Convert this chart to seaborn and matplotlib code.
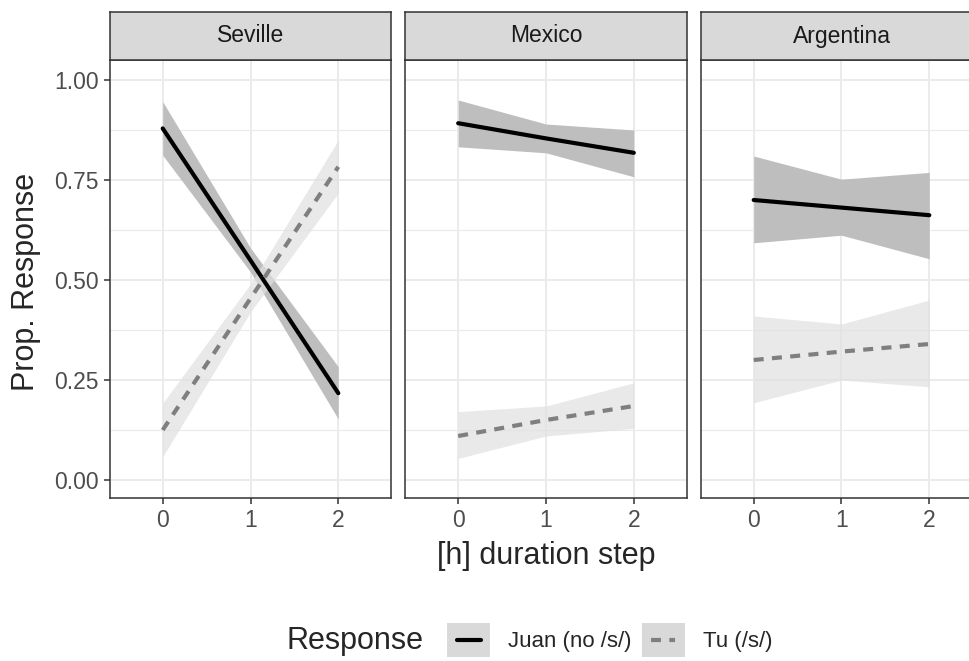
import numpy as np
import pandas as pd
import matplotlib
matplotlib.use("Agg")
import matplotlib.pyplot as plt
from matplotlib.patches import Rectangle
from matplotlib.lines import Line2D
from matplotlib.legend_handler import HandlerBase
import seaborn as sns

# data
steps = [0, 1, 2]
places = ["Seville", "Mexico", "Argentina"]
juan_fit = {"Seville": [0.879, 0.549, 0.217], "Mexico": [0.892, 0.854, 0.818], "Argentina": [0.700, 0.681, 0.662]}
juan_lo = {"Seville": [0.812, 0.520, 0.152], "Mexico": [0.833, 0.818, 0.758], "Argentina": [0.593, 0.612, 0.553]}
juan_hi = {"Seville": [0.946, 0.580, 0.283], "Mexico": [0.950, 0.890, 0.875], "Argentina": [0.810, 0.752, 0.769]}
tu_fit = {"Seville": [0.125, 0.454, 0.783], "Mexico": [0.110, 0.150, 0.185], "Argentina": [0.300, 0.321, 0.340]}
tu_lo = {"Seville": [0.058, 0.420, 0.717], "Mexico": [0.054, 0.110, 0.129], "Argentina": [0.193, 0.250, 0.233]}
tu_hi = {"Seville": [0.192, 0.490, 0.850], "Mexico": [0.171, 0.185, 0.243], "Argentina": [0.410, 0.390, 0.450]}
resp_labels = ["Juan (no /s/)", "Tu (/s/)"]

sns.set_style("white")
plt.rcParams["font.family"] = ["Liberation Sans", "DejaVu Sans"]

W, H = 970, 661
fig, axes = plt.subplots(1, 3, figsize=(W / 100, H / 100), dpi=100, sharey=True)
# third panel runs past the right edge, as in the (cropped) reference
fig.subplots_adjust(left=110 / W, right=982 / W, bottom=1 - 498 / H, top=1 - 60 / H, wspace=0.0516)

dash = [2.4, 2.0]
for ax, p in zip(axes, places):
    ax.fill_between(steps, juan_lo[p], juan_hi[p], color="#BEBEBE", lw=0, zorder=2)
    ax.fill_between(steps, tu_lo[p], tu_hi[p], color="#E0E0E0", alpha=0.7, lw=0, zorder=2)
    sns.lineplot(x=steps, y=juan_fit[p], ax=ax, color="black", lw=3, zorder=3)
    sns.lineplot(x=steps, y=tu_fit[p], ax=ax, color="#7F7F7F", lw=3, zorder=3)
    ax.lines[-1].set_dashes(dash)
    ax.set_xlim(-0.6, 2.6)
    ax.set_ylim(-0.045, 1.05)
    ax.set_xticks(steps)
    ax.set_yticks([0, 0.25, 0.5, 0.75, 1.0])
    ax.set_yticks([0.125, 0.375, 0.625, 0.875], minor=True)
    ax.set_yticklabels(["0.00", "0.25", "0.50", "0.75", "1.00"])
    ax.grid(True, which="major", color="#EBEBEB", lw=1.4, zorder=0)
    ax.grid(True, which="minor", axis="y", color="#EBEBEB", lw=0.8, zorder=0)
    ax.set_axisbelow(True)
    for s in ax.spines.values():
        s.set_color("#333333")
        s.set_linewidth(1.1)
    ax.tick_params(axis="both", which="major", length=4, width=1.1, color="#333333", pad=4,
                   labelsize=16.5, labelcolor="#4D4D4D", left=True, bottom=True)
    ax.tick_params(axis="y", which="minor", length=0)
    ax.set_xlabel("")
    ax.set_ylabel("")
    pos = ax.get_position()
    sax = fig.add_axes([pos.x0, pos.y1, pos.width, 48 / H])
    sax.set_facecolor("#D9D9D9")
    sax.set_xticks([])
    sax.set_yticks([])
    for s in sax.spines.values():
        s.set_color("#333333")
        s.set_linewidth(1.1)
    sax.text(0.5, 0.5, p, ha="center", va="center", fontsize=16.5, color="#1A1A1A")

for ax in axes[1:]:
    ax.tick_params(axis="y", left=False, labelleft=False)

fig.text(546 / W, 1 - 556 / H, "[h] duration step", ha="center", va="center", fontsize=22)
fig.text(26 / W, 1 - 282 / H, "Prop. Response", ha="center", va="center", rotation=90, fontsize=22)


class KeyHandler(HandlerBase):
    def create_artists(self, legend, orig, xd, yd, width, height, fontsize, trans):
        bg = Rectangle((-xd, -yd), width, height, facecolor="#D9D9D9", edgecolor="none", transform=trans)
        ln = Line2D([-xd + width * 0.22, -xd + width * 0.78], [-yd + height / 2] * 2,
                    color=orig.get_color(), lw=3, transform=trans)
        if orig.get_linestyle() != "-":
            ln.set_dashes(dash)
        return [bg, ln]


fig.text(287 / W, 1 - 641 / H, "Response", ha="left", va="center", fontsize=22)
h1 = Line2D([], [], color="black", lw=3)
h2 = Line2D([], [], color="#7F7F7F", lw=3, linestyle="--")
fig.legend([h1, h2], resp_labels, loc="center left", bbox_to_anchor=(447 / W, 1 - 640 / H),
           ncol=2, frameon=False, fontsize=16, handlelength=1.95, handleheight=1.95,
           columnspacing=0.45, handletextpad=0.8, borderaxespad=0, borderpad=0,
           handler_map={Line2D: KeyHandler()})

fig.savefig("out.png", dpi=100)
